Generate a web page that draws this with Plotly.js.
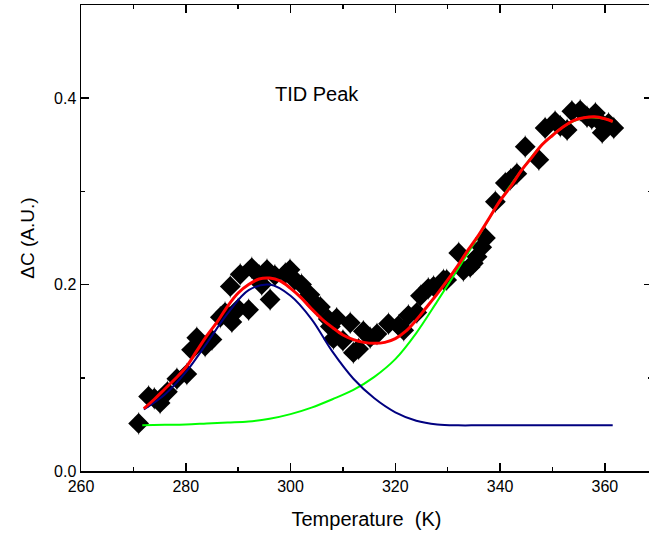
<!DOCTYPE html>
<html>
<head>
<meta charset="utf-8">
<script src="https://cdn.plot.ly/plotly-3.0.1.min.js"></script>
<style>
html,body{margin:0;padding:0;overflow:hidden;background:#fff;}
#chart{width:660px;height:543px;}
</style>
</head>
<body>
<div id="chart"></div>
<script>
// Measured data points (Temperature K, ΔC A.U.)
const tempData = [271.0,272.9,274.0,275.1,276.5,278.3,280.2,281.1,282.1,283.7,285.0,286.6,287.5,288.5,288.8,290.0,290.4,292.0,292.6,294.0,294.5,295.5,296.1,297.0,299.0,299.9,300.8,302.1,303.7,305.0,305.7,307.2,307.6,308.2,308.8,310.0,311.4,312.0,313.0,313.9,315.2,316.5,318.7,320.6,321.6,322.5,324.1,324.8,326.3,327.3,329.2,329.8,332.1,333.0,334.3,334.9,335.6,336.5,337.2,339.1,341.0,342.0,343.2,344.8,347.4,348.6,350.5,351.5,352.8,353.7,355.3,356.6,357.5,358.2,359.0,359.5,360.7,361.7];
const dcData = [0.051,0.080,0.078,0.073,0.085,0.099,0.104,0.130,0.143,0.134,0.141,0.165,0.170,0.198,0.160,0.174,0.211,0.173,0.218,0.210,0.200,0.216,0.184,0.210,0.212,0.216,0.205,0.200,0.189,0.178,0.176,0.163,0.155,0.142,0.164,0.140,0.159,0.127,0.131,0.150,0.143,0.147,0.158,0.156,0.151,0.167,0.170,0.188,0.196,0.198,0.205,0.205,0.234,0.215,0.219,0.223,0.230,0.240,0.250,0.289,0.309,0.313,0.319,0.348,0.334,0.368,0.375,0.370,0.366,0.386,0.387,0.380,0.378,0.384,0.375,0.363,0.373,0.368];
const dcErr = 0.012;

// Total fit (red)
const fitT = [272,274,276,278,280,282,284,286,288,290,292,294,296,298,300,302,304,306,308,310,312,314,316,318,320,322,324,326,328,330,332,334,336,338,340,342,344,346,348,350,352,354,356,358,360,361.5];
const fitTotal = [0.067,0.077,0.088,0.099,0.111,0.128,0.145,0.160,0.177,0.191,0.200,0.206,0.207,0.204,0.196,0.186,0.174,0.163,0.154,0.146,0.141,0.138,0.137,0.138,0.142,0.150,0.162,0.176,0.190,0.205,0.221,0.238,0.254,0.272,0.290,0.305,0.322,0.336,0.350,0.360,0.369,0.376,0.379,0.380,0.378,0.375];

// Peak component (blue)
const peakT = [272,276,280,284,288,292,296,300,304,308,312,316,320,324,328,332,336,344,352,361.5];
const peakDC = [0.066,0.082,0.106,0.137,0.169,0.194,0.200,0.188,0.163,0.128,0.099,0.078,0.063,0.054,0.050,0.049,0.049,0.049,0.049,0.049];

// Background component (green)
const bgT = [271.7,276,280,284,288,292,296,300,304,308,312,316,320,324,328,332,336,340,344,348,352,356,360,361.5];
const bgDC = [0.049,0.0495,0.050,0.051,0.052,0.053,0.056,0.061,0.068,0.077,0.087,0.101,0.120,0.148,0.182,0.217,0.253,0.290,0.322,0.350,0.369,0.379,0.378,0.375];

const xTicks = [260,280,300,320,340,360];
const yTicks = [0.0,0.2,0.4];

const traces = [
  {x: tempData, y: dcData, type:'scatter', mode:'markers',
   marker:{symbol:'diamond', size:16, color:'#000000'},
   error_y:{type:'constant', value:dcErr, color:'#777777', thickness:1, width:0},
   showlegend:false, hoverinfo:'skip'},
  {x: bgT, y: bgDC, type:'scatter', mode:'lines', line:{color:'#00ff00', width:2, shape:'spline'}, showlegend:false},
  {x: peakT, y: peakDC, type:'scatter', mode:'lines', line:{color:'#000080', width:2, shape:'spline'}, showlegend:false},
  {x: fitT, y: fitTotal, type:'scatter', mode:'lines', line:{color:'#ff0000', width:3, shape:'spline'}, showlegend:false}
];

const axisFont = {family:'Liberation Sans, Arial, sans-serif', size:16, color:'#000'};
const layout = {
  width:660, height:543,
  margin:{l:81, r:8, t:5, b:72},
  paper_bgcolor:'#fff', plot_bgcolor:'#fff',
  font: axisFont,
  xaxis:{
    range:[260,369], showgrid:false, zeroline:false,
    showline:true, linecolor:'#000', linewidth:1.5, mirror:'ticks',
    ticks:'inside', ticklen:8, tickwidth:1.5, tickcolor:'#000',
    tickvals:xTicks, ticktext:xTicks.map(String), tickfont:axisFont,
    minor:{ticks:'inside', dtick:10, tick0:260, ticklen:4, tickwidth:1.5, tickcolor:'#000', showgrid:false},
    title:{text:'Temperature\u00a0 (K)', font:{family:'Liberation Sans, Arial, sans-serif', size:20, color:'#000'}, standoff:18}
  },
  yaxis:{
    range:[0,0.5], showgrid:false, zeroline:false,
    showline:true, linecolor:'#000', linewidth:1.5, mirror:'ticks',
    ticks:'inside', ticklen:8, tickwidth:1.5, tickcolor:'#000',
    tickvals:yTicks, ticktext:yTicks.map(v=>v.toFixed(1)), tickfont:axisFont,
    minor:{ticks:'inside', dtick:0.1, tick0:0, ticklen:4, tickwidth:1.5, tickcolor:'#000', showgrid:false},
    title:{text:'\u0394C (A.U.)', font:{family:'Liberation Sans, Arial, sans-serif', size:19, color:'#000'}, standoff:14}
  },
  annotations:[{x:305, y:0.405, xref:'x', yref:'y', text:'TID Peak', showarrow:false,
    font:{family:'Liberation Sans, Arial, sans-serif', size:20, color:'#000'}}]
};

Plotly.newPlot('chart', traces, layout, {displayModeBar:false, staticPlot:true});
</script>
</body>
</html>
